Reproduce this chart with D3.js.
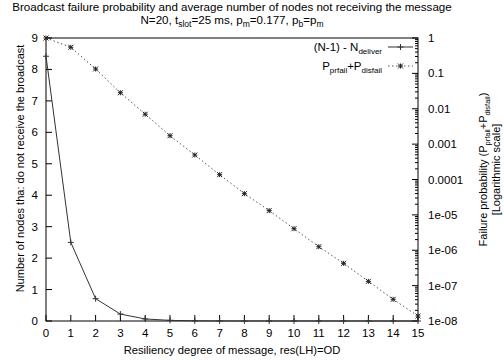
<!DOCTYPE html>
<html>
<head>
<meta charset="utf-8">
<script src="https://cdn.jsdelivr.net/npm/d3@7"></script>
<style>
  body { margin: 0; background: #fff; }
  svg text { font-family: "Liberation Sans", Arial, sans-serif; fill: #000; }
</style>
</head>
<body>
<svg id="chart" width="504" height="363"></svg>
<script>
// data
var resDegree = [0, 1, 2, 3, 4, 5, 6, 7, 8, 9, 10, 11, 12, 13, 14, 15];
var nUndelivered = [8.42, 2.5, 0.71, 0.22, 0.065, 0.02, 0.006, 0.002, 0.0006, 0.0002, 0.00006, 0.00002, 0, 0, 0, 0];
var failProb = [1, 0.546, 0.133, 0.0284, 0.0070, 0.00173, 0.000493, 0.000137,
                3.98e-5, 1.32e-5, 4.07e-6, 1.26e-6, 4.27e-7, 1.32e-7, 4.1e-8, 1.38e-8];
var leftTicks = [0, 1, 2, 3, 4, 5, 6, 7, 8, 9];
var rightTicks = [1, 0.1, 0.01, 0.001, 0.0001, 1e-5, 1e-6, 1e-7, 1e-8];
var rightTickLabels = ["1", "0.1", "0.01", "0.001", "0.0001", "1e-05", "1e-06", "1e-07", "1e-08"];

var svg = d3.select("#chart");
var L = 46, R = 418, T = 38, B = 321;
var lineCol = "#333";

var x = d3.scaleLinear().domain([0, 15]).range([L, R]);
var y = d3.scaleLinear().domain([0, 9]).range([B, T]);
var y2 = d3.scaleLog().domain([1e-8, 1]).range([B, T]);

// STEP 1: frame and ticks
svg.append("rect")
    .attr("x", L).attr("y", T)
    .attr("width", R - L).attr("height", B - T)
    .attr("fill", "none").attr("stroke", "#000").attr("stroke-width", 1);

var g = svg.append("g").attr("stroke", "#000").attr("stroke-width", 1);

resDegree.forEach(function(d) {
    g.append("line").attr("x1", x(d)).attr("x2", x(d)).attr("y1", B).attr("y2", B - 6);
});
leftTicks.forEach(function(d) {
    g.append("line").attr("x1", L).attr("x2", L + 6).attr("y1", y(d)).attr("y2", y(d));
});
// log ticks on the right, majors and minors
for (var e = -8; e <= 0; e++) {
    var v = Math.pow(10, e);
    g.append("line").attr("x1", R).attr("x2", R - 6).attr("y1", y2(v)).attr("y2", y2(v));
    if (e < 0) {
        for (var k = 2; k <= 9; k++) {
            var mv = k * v;
            g.append("line").attr("x1", R).attr("x2", R - 3).attr("y1", y2(mv)).attr("y2", y2(mv));
        }
    }
}

// tick labels
svg.append("g").selectAll("text").data(resDegree).enter().append("text")
    .attr("x", d => x(d)).attr("y", B + 16)
    .attr("text-anchor", "middle").attr("font-size", 11.5)
    .text(d => d);

svg.append("g").selectAll("text").data(leftTicks).enter().append("text")
    .attr("x", L - 8).attr("y", d => y(d) + 4)
    .attr("text-anchor", "end").attr("font-size", 11.5)
    .text(d => d);

svg.append("g").selectAll("text").data(rightTicks).enter().append("text")
    .attr("x", R + 10).attr("y", d => y2(d) + 4)
    .attr("text-anchor", "start").attr("font-size", 11.5)
    .text((d, i) => rightTickLabels[i]);

// STEP 2: series
var line1 = d3.line().x((d, i) => x(resDegree[i])).y(d => y(d));
var line2 = d3.line().x((d, i) => x(resDegree[i])).y(d => y2(d));

svg.append("path").datum(nUndelivered)
    .attr("d", line1).attr("fill", "none")
    .attr("stroke", lineCol).attr("stroke-width", 1);

svg.append("path").datum(failProb)
    .attr("d", line2).attr("fill", "none")
    .attr("stroke", "#555").attr("stroke-width", 1)
    .attr("stroke-dasharray", "1.5,2.5");

function plusMark(sel, cx, cy, s) {
    sel.append("line").attr("x1", cx - s).attr("x2", cx + s).attr("y1", cy).attr("y2", cy);
    sel.append("line").attr("x1", cx).attr("x2", cx).attr("y1", cy - s).attr("y2", cy + s);
}
function starMark(sel, cx, cy, s) {
    plusMark(sel, cx, cy, s);
    sel.append("line").attr("x1", cx - s).attr("x2", cx + s).attr("y1", cy - s).attr("y2", cy + s);
    sel.append("line").attr("x1", cx - s).attr("x2", cx + s).attr("y1", cy + s).attr("y2", cy - s);
}

var m1 = svg.append("g").attr("stroke", lineCol).attr("stroke-width", 1);
nUndelivered.forEach(function(d, i) { plusMark(m1, x(resDegree[i]), y(d), 3); });

var m2 = svg.append("g").attr("stroke", "#222").attr("stroke-width", 1);
failProb.forEach(function(d, i) { starMark(m2, x(resDegree[i]), y2(d), 2.5); });

// legend
var leg = svg.append("g");
var ly1 = 47, ly2 = 66, lx0 = 388, lx1 = 413;
var t1 = leg.append("text").attr("x", 382).attr("y", ly1 + 4)
    .attr("text-anchor", "end").attr("font-size", 11.5);
t1.append("tspan").text("(N-1) - N");
t1.append("tspan").attr("font-size", 8).attr("dy", 3).text("deliver");
leg.append("line").attr("x1", lx0).attr("x2", lx1).attr("y1", ly1).attr("y2", ly1)
    .attr("stroke", lineCol);
plusMark(leg.append("g").attr("stroke", lineCol), (lx0 + lx1) / 2, ly1, 3);

var t2 = leg.append("text").attr("x", 382).attr("y", ly2 + 4)
    .attr("text-anchor", "end").attr("font-size", 11.5);
t2.append("tspan").text("P");
t2.append("tspan").attr("font-size", 8).attr("dy", 3).text("prfail");
t2.append("tspan").attr("dy", -3).text("+P");
t2.append("tspan").attr("font-size", 8).attr("dy", 3).text("disfail");
leg.append("line").attr("x1", lx0).attr("x2", lx1).attr("y1", ly2).attr("y2", ly2)
    .attr("stroke", "#555").attr("stroke-dasharray", "1.5,2.5");
starMark(leg.append("g").attr("stroke", "#222"), (lx0 + lx1) / 2, ly2, 2.5);

// STEP 3: titles and axis labels
var cx = (L + R) / 2;
svg.append("text").attr("x", cx).attr("y", 11)
    .attr("text-anchor", "middle").attr("font-size", 11.6)
    .text("Broadcast failure probability and average number of nodes not receiving the message");

var sub = svg.append("text").attr("x", cx).attr("y", 24)
    .attr("text-anchor", "middle").attr("font-size", 11.6);
sub.append("tspan").text("N=20, t");
sub.append("tspan").attr("font-size", 8.5).attr("dy", 3).text("slot");
sub.append("tspan").attr("dy", -3).text("=25 ms, p");
sub.append("tspan").attr("font-size", 8.5).attr("dy", 3).text("m");
sub.append("tspan").attr("dy", -3).text("=0.177, p");
sub.append("tspan").attr("font-size", 8.5).attr("dy", 3).text("b");
sub.append("tspan").attr("dy", -3).text("=p");
sub.append("tspan").attr("font-size", 8.5).attr("dy", 3).text("m");

svg.append("text").attr("x", cx).attr("y", 354)
    .attr("text-anchor", "middle").attr("font-size", 11.2)
    .text("Resiliency degree of message, res(LH)=OD");

svg.append("text")
    .attr("transform", "translate(24," + ((T + B) / 2 - 11) + ") rotate(-90)")
    .attr("text-anchor", "middle").attr("font-size", 11)
    .text("Number of nodes tha: do not receive the broadcast");

var rl = svg.append("text")
    .attr("transform", "translate(487," + ((T + B) / 2 - 10) + ") rotate(-90)")
    .attr("text-anchor", "middle").attr("font-size", 11);
rl.append("tspan").text("Failure probability (P");
rl.append("tspan").attr("font-size", 7.5).attr("dy", 2.5).text("prfail");
rl.append("tspan").attr("dy", -2.5).text("+P");
rl.append("tspan").attr("font-size", 7.5).attr("dy", 2.5).text("disfail");
rl.append("tspan").attr("dy", -2.5).text(")");

svg.append("text")
    .attr("transform", "translate(500," + ((T + B) / 2 - 10) + ") rotate(-90)")
    .attr("text-anchor", "middle").attr("font-size", 11)
    .text("[Logarithmic scale]");
</script>
</body>
</html>
